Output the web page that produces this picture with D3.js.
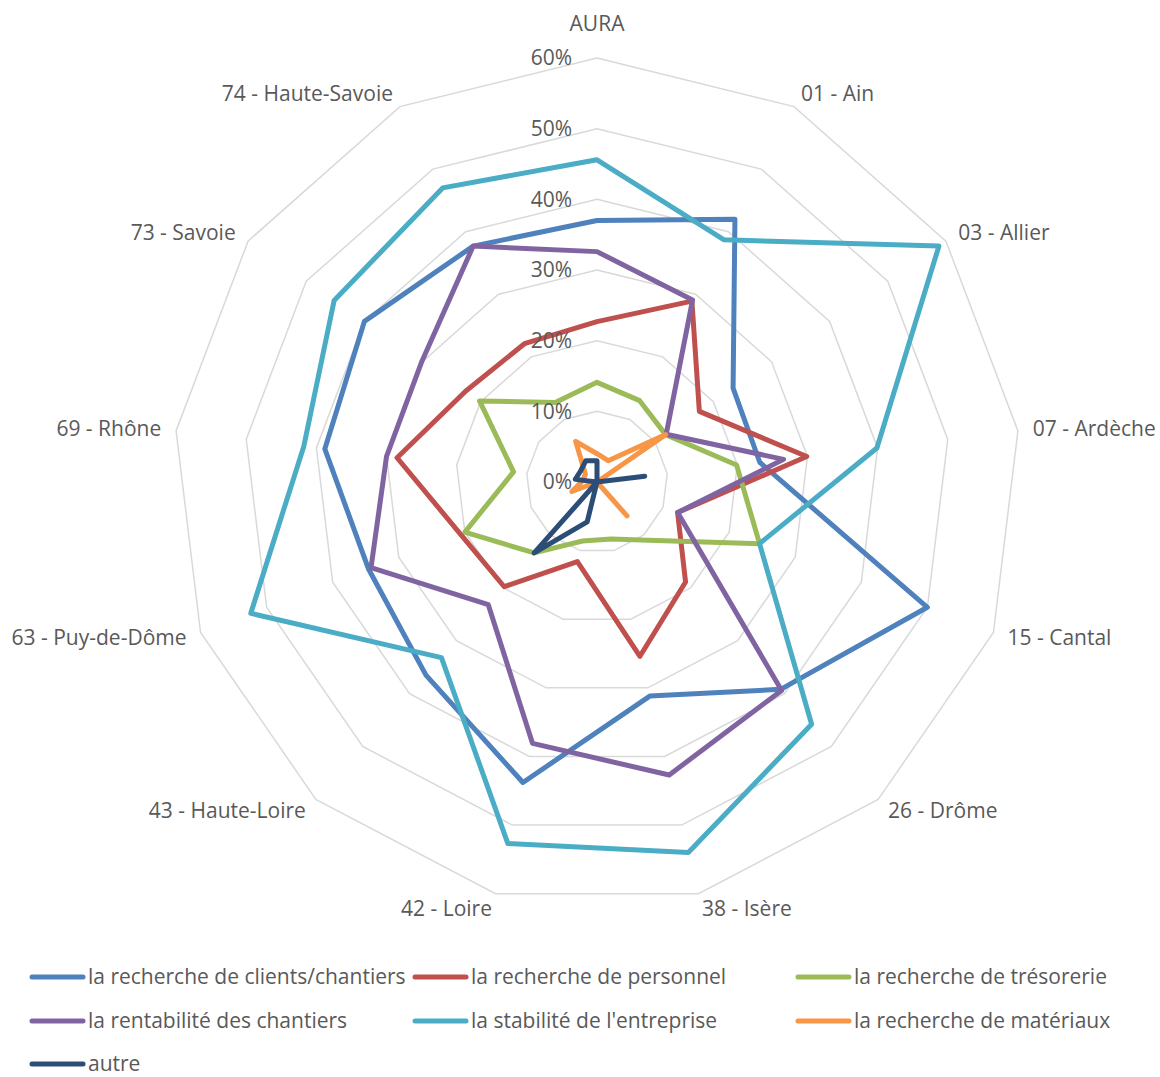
<!DOCTYPE html>
<html>
<head>
<meta charset="utf-8">
<script src="https://cdn.jsdelivr.net/npm/d3@7"></script>
<style>
  html, body { margin: 0; padding: 0; background: #fff; }
  svg { display: block; font-family: "Open Sans", "Noto Sans", sans-serif; }
</style>
</head>
<body>
<svg id="chart" width="1160" height="1077"></svg>
<script>
// ---- data ----
const categories = ["AURA", "01 - Ain", "03 - Allier", "07 - Ardèche", "15 - Cantal", "26 - Drôme",
  "38 - Isère", "42 - Loire", "43 - Haute-Loire", "63 - Puy-de-Dôme", "69 - Rhône", "73 - Savoie", "74 - Haute-Savoie"];
const seriesNames = ["la recherche de clients/chantiers", "la recherche de personnel", "la recherche de trésorerie",
  "la rentabilité des chantiers", "la stabilité de l'entreprise", "la recherche de matériaux", "autre"];
const clients     = [37.0, 42.0, 23.4, 23.2, 50.0, 39.2, 31.2, 43.8, 36.5, 34.6, 38.8, 40.0, 37.7];
const personnel   = [22.7, 28.9, 17.6, 29.9, 12.2, 18.9, 25.4, 11.6, 19.8, 20.7, 28.5, 22.6, 22.1];
const tresorerie  = [14.1, 13.0, 11.8, 19.9, 24.6, 11.0,  8.3,  8.6, 13.4, 20.0, 11.9, 20.2, 12.7];
const rentabilite = [32.6, 29.1, 11.9, 26.6, 12.2, 39.4, 42.7, 38.1, 23.2, 34.2, 30.0, 30.1, 37.7];
const stabilite   = [45.6, 38.7, 58.8, 39.9, 24.6, 45.8, 54.0, 52.7, 33.2, 52.4, 41.8, 45.2, 47.0];
const materiaux   = [ 4.0,  3.4, 11.8,  0.0,  0.0,  6.4,  0.0,  0.0,  0.0,  3.8,  2.0,  2.0,  6.5];
const autre       = [ 3.0,  0.0,  0.0,  6.8,  0.0,  0.0,  0.0,  5.8, 13.4,  0.0,  3.1,  2.8,  3.4];
const tickValues  = [0, 10, 20, 30, 40, 50, 60];
const seriesValues = [clients, personnel, tresorerie, rentabilite, stabilite, materiaux, autre];
const colors = ["#4f81bd", "#c0504d", "#9bbb59", "#8064a2", "#4bacc6", "#f79646", "#2c4d75"];

// ---- layout ----
const svg = d3.select("#chart");
const cx = 597, cy = 482, R = 424;
const n = categories.length;
const r = d3.scaleLinear().domain([0, 60]).range([0, R]);
const angle = d3.scaleLinear().domain([0, n]).range([0, 2 * Math.PI]);
const textColor = "#595959";
const fontSize = 21;

const g = svg.append("g").attr("transform", `translate(${cx},${cy})`);

// grid rings
const ringLine = d3.lineRadial()
  .angle((d, i) => angle(i))
  .radius(d => r(d))
  .curve(d3.curveLinearClosed);
g.append("g").selectAll("path")
  .data(tickValues.filter(t => t > 0))
  .join("path")
  .attr("d", t => ringLine(categories.map(() => t)))
  .attr("fill", "none")
  .attr("stroke", "#d9d9d9")
  .attr("stroke-width", 1.5);

// series
const seriesLine = d3.lineRadial()
  .angle((d, i) => angle(i))
  .radius(d => r(d))
  .curve(d3.curveLinearClosed);
g.append("g").selectAll("path")
  .data(seriesValues)
  .join("path")
  .attr("d", d => seriesLine(d))
  .attr("fill", "none")
  .attr("stroke", (d, i) => colors[i])
  .attr("stroke-width", 5)
  .attr("stroke-linejoin", "round")
  .attr("stroke-linecap", "round");

// tick labels
g.append("g").selectAll("text")
  .data(tickValues)
  .join("text")
  .attr("x", -25)
  .attr("y", t => -r(t))
  .attr("dy", "0.35em")
  .attr("text-anchor", "end")
  .attr("fill", textColor)
  .attr("font-size", fontSize)
  .text(t => t + "%");

// category labels
const labelR = R + 15;
g.append("g").selectAll("text")
  .data(categories)
  .join("text")
  .attr("x", (d, i) => labelR * Math.sin(angle(i)))
  .attr("y", (d, i) => i === 0 ? -R - 27 : -labelR * Math.cos(angle(i)))
  .attr("dy", (d, i) => i === 0 ? "0" : "0.35em")
  .attr("text-anchor", (d, i) => {
    const s = Math.sin(angle(i));
    return Math.abs(s) < 1e-6 ? "middle" : (s > 0 ? "start" : "end");
  })
  .attr("fill", textColor)
  .attr("font-size", fontSize)
  .text(d => d);

// legend
const colX = [30, 413, 796];
const rowY = [977, 1021, 1064];
const leg = svg.append("g").selectAll("g")
  .data(seriesNames)
  .join("g")
  .attr("transform", (d, i) => `translate(${colX[i % 3]},${rowY[Math.floor(i / 3)]})`);
leg.append("line")
  .attr("x1", 2).attr("x2", 53).attr("y1", 0).attr("y2", 0)
  .attr("stroke", (d, i) => colors[i])
  .attr("stroke-width", 5)
  .attr("stroke-linecap", "round");
leg.append("text")
  .attr("x", 58)
  .attr("y", 0)
  .attr("dy", "0.33em")
  .attr("fill", textColor)
  .attr("font-size", fontSize)
  .text(d => d);
</script>
</body>
</html>
